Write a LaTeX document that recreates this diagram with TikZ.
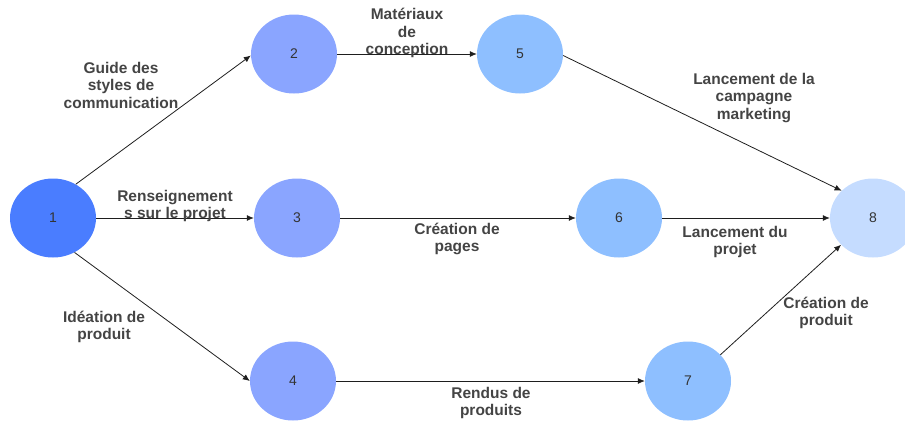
\documentclass[tikz,border=0pt]{standalone}
\usepackage{fontspec}
\setmainfont{Liberation Sans}
\usetikzlibrary{shapes.geometric,arrows.meta}
\definecolor{cA}{RGB}{74,125,255}
\definecolor{cB}{RGB}{138,165,255}
\definecolor{cC}{RGB}{142,191,255}
\definecolor{cD}{RGB}{197,220,255}
\definecolor{txt}{RGB}{68,68,68}
\definecolor{edge}{RGB}{30,30,30}
\tikzset{
  evt/.style={ellipse, draw=none, minimum width=86pt, minimum height=79pt, inner sep=0pt,
    font=\fontsize{14}{16}\selectfont, text=black!80},
  lbl/.style={align=center, font=\fontsize{15.5}{17.5}\selectfont\bfseries, text=txt, inner sep=0pt},
  arr/.style={draw=edge, line width=0.8pt, -{Latex[length=7pt,width=6pt]}}
}
\begin{document}
\begin{tikzpicture}[x=1pt,y=-1pt]
\useasboundingbox (0,0) rectangle (905,421);
\begin{scope}
\clip (0,0) rectangle (905,421);
\node[evt, fill=cA] (n1) at (53,218) {1};
\node[evt, fill=cB] (n2) at (294,54) {2};
\node[evt, fill=cB] (n3) at (297,218) {3};
\node[evt, fill=cB] (n4) at (293,381) {4};
\node[evt, fill=cC] (n5) at (520,54) {5};
\node[evt, fill=cC] (n6) at (619,218) {6};
\node[evt, fill=cC] (n7) at (688,381) {7};
\node[evt, fill=cD] (n8) at (873,218) {8};
\end{scope}

\draw[arr] (n1.56) -- (n2.182);
\draw[arr] (n1) -- (n3);
\draw[arr] (n1.-58) -- (n4.180);
\draw[arr] (n2) -- (n5);
\draw[arr] (n3) -- (n6);
\draw[arr] (n4) -- (n7);
\draw[arr] (n5.-2) -- (n8.139);
\draw[arr] (n6) -- (n8);
\draw[arr] (n7.39) -- (n8.220);

\node[lbl] (l12) at (121,85) {Guide des\\styles de\\communication};
\node[lbl] (l25) at (407,33) {Matériaux\\de\\conception};
\node[lbl] (l58) at (754,98) {Lancement de la\\campagne\\marketing};
\node[lbl] (l13) at (175,206) {Renseignement\\s sur le projet};
\node[lbl] (l36) at (457,239) {Création de\\pages};
\node[lbl] (l68) at (735,242) {Lancement du\\projet};
\node[lbl] (l14) at (104,327) {Idéation de\\produit};
\node[lbl] (l47) at (491,403) {Rendus de\\produits};
\node[lbl] (l78) at (826,313) {Création de\\produit};
\end{tikzpicture}
\end{document}
